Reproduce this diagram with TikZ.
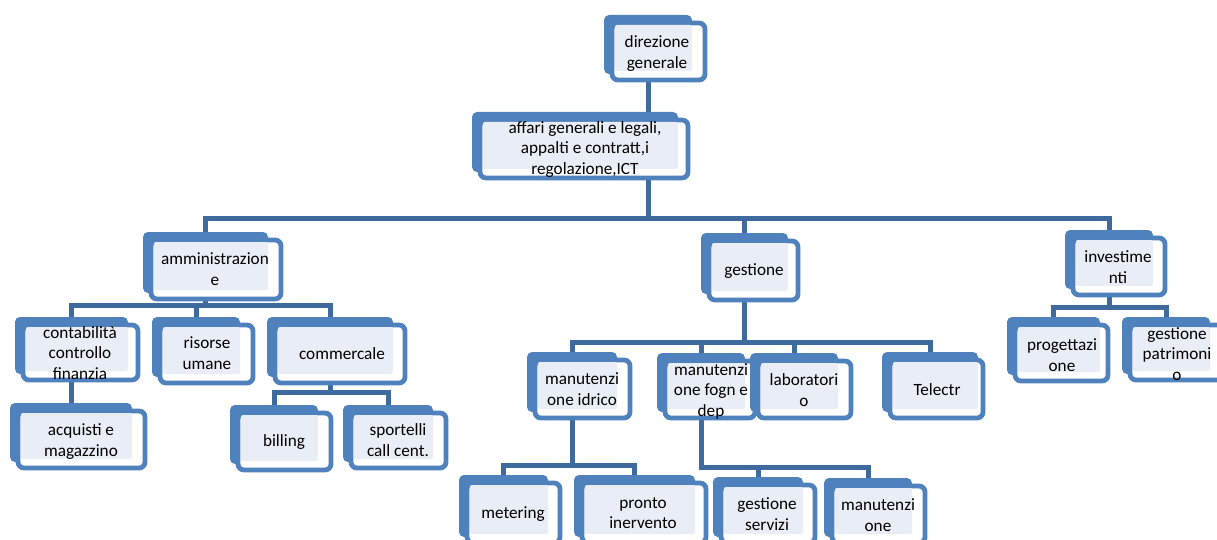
\documentclass[tikz,border=0pt]{standalone}
\usepackage{fontspec}
\setmainfont{Carlito}
\usetikzlibrary{fit}
\definecolor{boxblue}{RGB}{79,129,189}
\definecolor{lightfill}{RGB}{233,238,246}
\definecolor{connblue}{RGB}{62,106,158}
\pgfdeclarelayer{bg}
\pgfsetlayers{bg,main}
\tikzset{
  backbox/.style={fill=boxblue, rounded corners=5pt, inner sep=0pt},
  frontbox/.style={fill=white, draw=boxblue, line width=4.8pt, rounded corners=6pt, inner sep=0pt},
  lightbox/.style={fill=lightfill, inner sep=0pt, rounded corners=2pt},
  txt/.style={font=\fontsize{17.2}{20.5}\selectfont, align=center, inner sep=0pt,
    execute at begin node=\strut, execute at end node=\strut},
  conn/.style={draw=connblue, line width=5pt},
}
\newcommand\orgnode[9]{%
  \node[backbox, fit={(#2,#3) (#4,{#6-8})}] (#1B) {};
  \node[frontbox, fit={({#2+8},{#3+8}) ({#5-2},{#6-2})}] (#1F) {};
  \node[lightbox, fit={({#2+11},{#3+10}) (#4,{#6-11})}] (#1L) {};
  \node[txt] (#1) at (#7,{#8+3}) {#9};
}
\begin{document}
\begin{tikzpicture}[x=1pt,y=-1pt]
\useasboundingbox (0,0) rectangle (1217,540);
\orgnode{dir}{604}{15}{692}{707}{82}{657}{52}{direzione\\generale}
\orgnode{aff}{472}{112}{678}{690}{180}{585}{148}{affari generali e legali,\\appalti e contratt,i\\regolazione,ICT}
\orgnode{amm}{143}{232}{268}{283}{301}{215}{269}{amministrazion\\e}
\orgnode{ges}{701}{233}{788}{800}{302}{754}{268}{gestione}
\orgnode{inv}{1065}{230}{1153}{1167}{297}{1118}{267}{investime\\nti}
\orgnode{con}{15}{317}{128}{140}{382}{80}{353}{contabilità\\controllo\\finanzia}
\orgnode{ris}{152}{317}{240}{255}{385}{207}{353}{risorse\\umane}
\orgnode{com}{267}{317}{393}{407}{385}{342}{352}{commercale}
\orgnode{acq}{10}{403}{132}{147}{470}{81}{440}{acquisti e\\magazzino}
\orgnode{bil}{230}{405}{318}{333}{472}{284}{439}{billing}
\orgnode{spo}{343}{405}{433}{448}{470}{398}{440}{sportelli\\call cent.}
\orgnode{idr}{527}{352}{617}{632}{420}{582}{389}{manutenzi\\one idrico}
\orgnode{fog}{657}{353}{745}{757}{420}{711}{390}{manutenzi\\one fogn e\\dep}
\orgnode{lab}{750}{353}{838}{853}{420}{804}{390}{laboratori\\o}
\orgnode{tel}{882}{352}{978}{985}{420}{937}{388}{Telectr}
\orgnode{met}{459}{475}{548}{562}{545}{513}{511}{metering}
\orgnode{pro}{574}{475}{695}{708}{545}{643}{513}{pronto\\inervento}
\orgnode{gse}{713}{477}{803}{817}{545}{767}{514}{gestione\\servizi}
\orgnode{man}{824}{478}{912}{927}{545}{878}{515}{manutenzi\\one}
\orgnode{prg}{1007}{317}{1100}{1110}{383}{1062}{355}{progettazi\\one}
\orgnode{pat}{1122}{317}{1210}{1230}{382}{1177}{354}{gestione\\patrimoni\\o}
\coordinate (b0) at (648,218);
\coordinate (b1) at (0,305);
\coordinate (b2) at (0,392);
\coordinate (b3) at (0,342);
\coordinate (b4) at (0,465);
\coordinate (b5) at (0,467);
\coordinate (b6) at (0,307);
\begin{pgfonlayer}{bg}
  \draw[conn] (dirB) -- (dirB |- affB.north);
  \draw[conn] (b0 |- affB) -- (b0);
  \draw[conn] (ammB.north) -- (ammB.north |- b0) -- (invB.north |- b0) -- (invB.north);
  \draw[conn] (gesB.north) -- (gesB.north |- b0);
  \draw[conn] (ammB) -- (ammB |- b1);
  \draw[conn] (conB.north) -- (conB.north |- b1) -- (comB.north |- b1) -- (comB.north);
  \draw[conn] (risB.north) -- (risB.north |- b1);
  \draw[conn] (conB) -- (conB |- acqB.north);
  \draw[conn] (comB) -- (comB |- b2);
  \draw[conn] (bilB.north) -- (bilB.north |- b2) -- (spoB.north |- b2) -- (spoB.north);
  \draw[conn] (gesB) -- (gesB |- b3);
  \draw[conn] (idrB.north) -- (idrB.north |- b3) -- (telB.north |- b3) -- (telB.north);
  \draw[conn] (fogB.north) -- (fogB.north |- b3);
  \draw[conn] (labB.north) -- (labB.north |- b3);
  \draw[conn] (idrB) -- (idrB |- b4);
  \draw[conn] (metB.north) -- (metB.north |- b4) -- (proB.north |- b4) -- (proB.north);
  \draw[conn] (fogB) -- (fogB |- b5) -- (manB.north |- b5) -- (manB.north);
  \draw[conn] (gseB.north) -- (gseB.north |- b5);
  \draw[conn] (invB) -- (invB |- b6);
  \draw[conn] (prgB.north) -- (prgB.north |- b6) -- (patB.north |- b6) -- (patB.north);
\end{pgfonlayer}
\end{tikzpicture}
\end{document}
